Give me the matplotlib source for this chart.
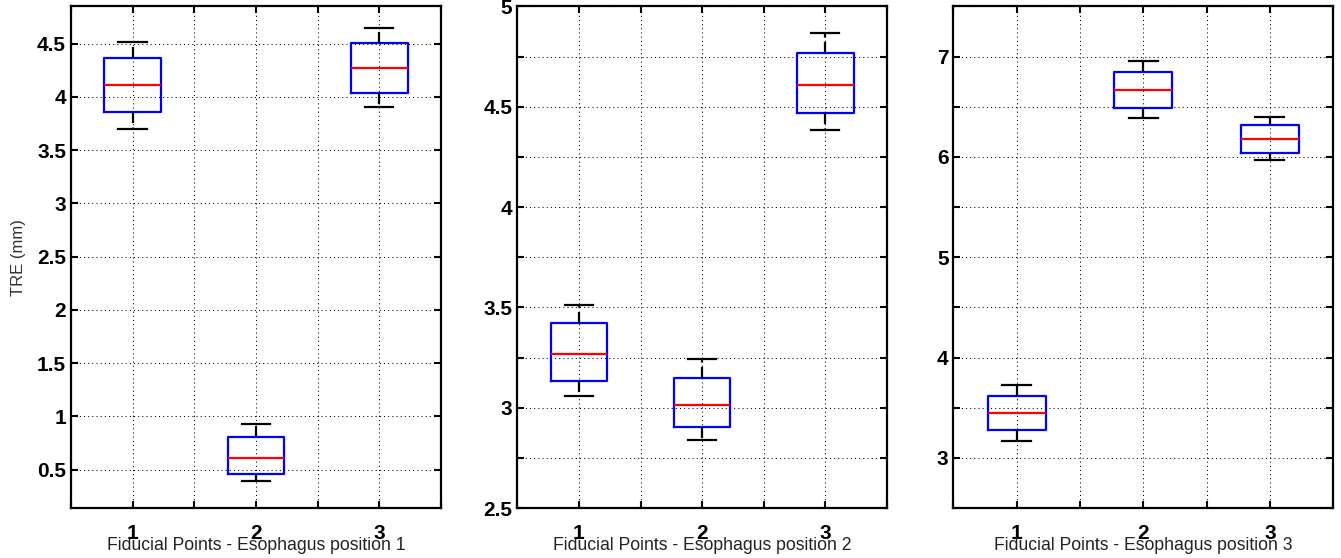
import matplotlib
matplotlib.use('Agg')
from matplotlib import pyplot as plt
from matplotlib.ticker import MultipleLocator, FormatStrFormatter

positions = [1, 2, 3]
tick_labels = ['1', '2', '3']
xlabels = ['Fiducial Points - Esophagus position 1',
           'Fiducial Points - Esophagus position 2',
           'Fiducial Points - Esophagus position 3']

# box statistics per panel (mm)
p1_whislo = [3.70, 0.39, 3.907]
p1_q1 = [3.857, 0.457, 4.041]
p1_med = [4.115, 0.61, 4.276]
p1_q3 = [4.366, 0.805, 4.503]
p1_whishi = [4.517, 0.932, 4.644]

p2_whislo = [3.056, 2.841, 4.383]
p2_q1 = [3.134, 2.903, 4.467]
p2_med = [3.269, 3.013, 4.609]
p2_q3 = [3.422, 3.147, 4.767]
p2_whishi = [3.513, 3.241, 4.867]

p3_whislo = [3.164, 6.39, 5.973]
p3_q1 = [3.273, 6.486, 6.043]
p3_med = [3.447, 6.667, 6.181]
p3_q3 = [3.621, 6.851, 6.316]
p3_whishi = [3.728, 6.96, 6.401]

plt.rcParams['font.family'] = ['Liberation Sans', 'DejaVu Sans']
plt.rcParams['font.weight'] = 'bold'


def make_stats(whislo, q1, med, q3, whishi):
    return [dict(whislo=a, q1=b, med=c, q3=d, whishi=e, fliers=[])
            for a, b, c, d, e in zip(whislo, q1, med, q3, whishi)]


def render_panel(ax, stats, ylim, major, minor, xlabel):
    ax.bxp(stats, positions=positions, widths=0.46, showfliers=False,
           boxprops=dict(color='#0000ff', lw=1.6),
           medianprops=dict(color='#ff0000', lw=1.6),
           whiskerprops=dict(color='black', lw=1.6, linestyle=(0, (5, 2))),
           capprops=dict(color='black', lw=1.6))
    ax.set_xlim(0.5, 3.5)
    ax.set_ylim(*ylim)
    ax.set_xticks(positions)
    ax.set_xticklabels(tick_labels)
    ax.xaxis.set_minor_locator(MultipleLocator(0.5))
    ax.yaxis.set_major_locator(MultipleLocator(major))
    ax.yaxis.set_major_formatter(FormatStrFormatter('%g'))
    if minor:
        ax.yaxis.set_minor_locator(MultipleLocator(minor))
    ax.grid(True, which='both', color='black', linestyle=(0, (1, 3)), lw=0.75)
    ax.tick_params(which='both', direction='in', top=True, right=True,
                   length=5, width=1.5, labelsize=15)
    ax.tick_params(axis='x', pad=11.5)
    ax.tick_params(axis='y', pad=3.5)
    for s in ax.spines.values():
        s.set_linewidth(1.6)
    ax.set_xlabel(xlabel, fontsize=12.7, fontweight='normal', color='#222222', va='top')
    ax.xaxis.set_label_coords(0.5, -0.058)


fig = plt.figure(figsize=(13.41, 5.58), dpi=100)
ax1 = fig.add_axes([0.0529, 0.0896, 0.2759, 0.8989])
ax2 = fig.add_axes([0.3858, 0.0896, 0.2755, 0.8989])
ax3 = fig.add_axes([0.7110, 0.0896, 0.2832, 0.8989])

render_panel(ax1, make_stats(p1_whislo, p1_q1, p1_med, p1_q3, p1_whishi),
             (0.14, 4.85), 0.5, None, xlabels[0])
render_panel(ax2, make_stats(p2_whislo, p2_q1, p2_med, p2_q3, p2_whishi),
             (2.5, 5.0), 0.5, 0.25, xlabels[1])
render_panel(ax3, make_stats(p3_whislo, p3_q1, p3_med, p3_q3, p3_whishi),
             (2.5, 7.5), 1, 0.5, xlabels[2])

ax1.set_ylabel('TRE (mm)', fontsize=12, fontweight='normal', color='#333333', va='center')
ax1.yaxis.set_label_coords(-0.143, 0.5)

fig.savefig('out.png', dpi=100)
